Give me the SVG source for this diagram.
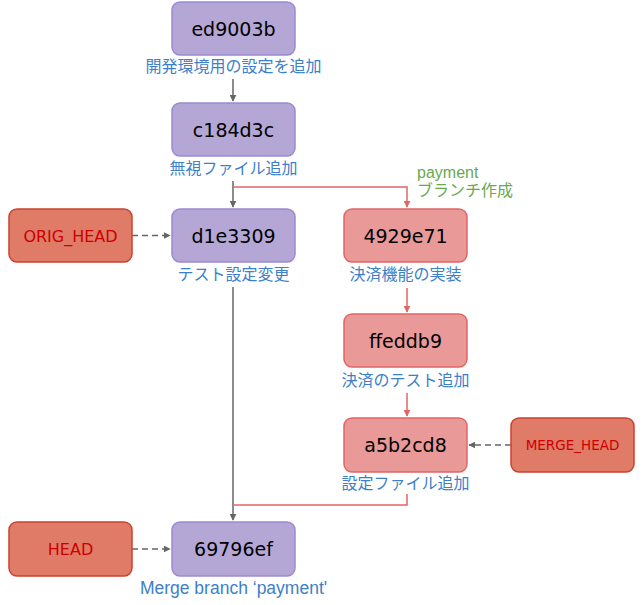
<svg xmlns="http://www.w3.org/2000/svg" width="644" height="605" viewBox="0 0 644 605">
<style>
.c{stroke-width:1.5}
.p{fill:#b4a7d6;stroke:#9b8ad1}
.r{fill:#ea9999;stroke:#e06666}
.h{fill:#e07b67;stroke:#c9432f}
.t{font-family:"DejaVu Sans","Noto Sans",sans-serif;font-size:19px;fill:#000;text-anchor:middle;dominant-baseline:central}
.ht{font-family:"DejaVu Sans","Noto Sans",sans-serif;font-size:16px;fill:#cc0000;text-anchor:middle;dominant-baseline:central}
.l{font-family:"Liberation Sans","Noto Sans CJK JP",sans-serif;font-size:16px;fill:#3d7fc9;text-anchor:middle;dominant-baseline:central}
.g{font-family:"Liberation Sans","Noto Sans CJK JP",sans-serif;font-size:16px;fill:#6aa84f}
.gl{fill:none;stroke:#666;stroke-width:1.5}
.rl{fill:none;stroke:#e06666;stroke-width:1.5}
.d{stroke-dasharray:6 4}
</style>
<defs>
<marker id="ag" viewBox="0 0 10 10" refX="9" refY="5" markerWidth="7" markerHeight="7" orient="auto" markerUnits="userSpaceOnUse"><path d="M0,0 L10,5 L0,10 z" fill="#666"/></marker>
<marker id="ar" viewBox="0 0 10 10" refX="9" refY="5" markerWidth="7" markerHeight="7" orient="auto" markerUnits="userSpaceOnUse"><path d="M0,0 L10,5 L0,10 z" fill="#e06666"/></marker>
</defs>
<rect width="644" height="605" fill="#fff"/>
<g id="connectors">
<path class="gl" d="M233,79 V101" marker-end="url(#ag)"/>
<path class="gl" d="M233,181 V207" marker-end="url(#ag)"/>
<path class="rl" d="M233,187 H407 V207" marker-end="url(#ar)"/>
<path class="rl" d="M407,288 V312" marker-end="url(#ar)"/>
<path class="rl" d="M407,393 V416" marker-end="url(#ar)"/>
<path class="gl" d="M233,287 V520" marker-end="url(#ag)"/>
<path class="rl" d="M407,494 V505 H234"/>
<path class="gl d" d="M132,235.5 H170" marker-end="url(#ag)"/>
<path class="gl d" d="M511,445 H469" marker-end="url(#ag)"/>
<path class="gl d" d="M132,549 H170" marker-end="url(#ag)"/>
</g>
<g id="ed9003b"><rect class="p c" x="172" y="2" width="123" height="53" rx="8"/><text class="t" x="233.5" y="29">ed9003b</text><text class="l" x="233.5" y="66">開発環境用の設定を追加</text></g>
<g id="c184d3c"><rect class="p c" x="172" y="103" width="123" height="53" rx="8"/><text class="t" x="233.5" y="130">c184d3c</text><text class="l" x="233.5" y="168">無視ファイル追加</text></g>
<g id="d1e3309"><rect class="p c" x="172" y="209" width="123" height="53" rx="8"/><text class="t" x="233.5" y="236">d1e3309</text><text class="l" x="233.5" y="274">テスト設定変更</text></g>
<g id="ORIG_HEAD"><rect class="h c" x="9" y="209" width="123" height="53" rx="8"/><text class="ht" x="70.5" y="236">ORIG_HEAD</text></g>
<g id="branch-label"><text class="g" x="417" y="178">payment</text><text class="g" x="417" y="196">ブランチ作成</text></g>
<g id="n4929e71"><rect class="r c" x="344" y="209" width="123" height="53" rx="8"/><text class="t" x="405.5" y="236">4929e71</text><text class="l" x="405.5" y="274">決済機能の実装</text></g>
<g id="ffeddb9"><rect class="r c" x="344" y="314" width="123" height="53" rx="8"/><text class="t" x="405.5" y="341">ffeddb9</text><text class="l" x="405.5" y="380">決済のテスト追加</text></g>
<g id="a5b2cd8"><rect class="r c" x="344" y="418" width="123" height="54" rx="8"/><text class="t" x="405.5" y="445">a5b2cd8</text><text class="l" x="405.5" y="483">設定ファイル追加</text></g>
<g id="MERGE_HEAD"><rect class="h c" x="511" y="418" width="123" height="54" rx="8"/><text class="ht" x="572.5" y="445" style="font-size:13.5px">MERGE_HEAD</text></g>
<g id="HEAD"><rect class="h c" x="9" y="522" width="123" height="54" rx="8"/><text class="ht" x="70.5" y="549">HEAD</text></g>
<g id="n69796ef"><rect class="p c" x="172" y="522" width="123" height="54" rx="8"/><text class="t" x="233.5" y="549">69796ef</text><text class="l" x="233.5" y="588" style="font-size:17.5px">Merge branch ‘payment'</text></g>
</svg>
